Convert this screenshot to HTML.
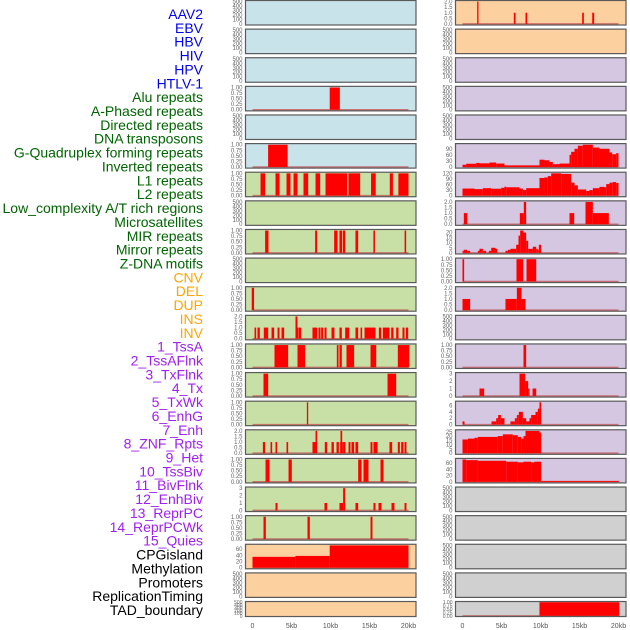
<!DOCTYPE html>
<html><head><meta charset="utf-8"><style>
html,body{margin:0;padding:0;background:#fff}
svg{display:block}
text{font-family:"Liberation Sans",sans-serif}
</style></head><body>
<svg id="chart" width="630" height="630" viewBox="0 0 630 630" xmlns="http://www.w3.org/2000/svg"></svg>
<script>
// ---- track labels ----
const trackLabels = ["AAV2","EBV","HBV","HIV","HPV","HTLV-1","Alu repeats","A-Phased repeats","Directed repeats","DNA transposons","G-Quadruplex forming repeats","Inverted repeats","L1 repeats","L2 repeats","Low_complexity A/T rich regions","Microsatellites","MIR repeats","Mirror repeats","Z-DNA motifs","CNV","DEL","DUP","INS","INV","1_TssA","2_TssAFlnk","3_TxFlnk","4_Tx","5_TxWk","6_EnhG","7_Enh","8_ZNF_Rpts","9_Het","10_TssBiv","11_BivFlnk","12_EnhBiv","13_ReprPC","14_ReprPCWk","15_Quies","CPGisland","Methylation","Promoters","ReplicationTiming","TAD_boundary"];
const labelGroupSizes = [6,13,5,15,5];
const labelGroupColors = ["#0000ee","#006400","#ffa500","#a020f0","#000000"];
const xTickValues = [0,5,10,15,20];
const xTickLabels = ["0","5kb","10kb","15kb","20kb"];

// ---- tick sets ----
const ticks500 = [0,100,200,300,400,500];
const ticks1 = [0,0.25,0.5,0.75,1];
const ticks2 = [0,0.5,1,1.5,2];
const ticks3 = [0,1,2,3];
const ticks60 = [0,20,40,60];
const ticks90 = [0,30,60,90];
const ticks120 = [0,30,60,90,120];
const ticks20 = [0,5,10,15,20];
const ticks25 = [0,5,10,15,20,25];
const ticks6 = [0,2,4,6];

// ---- series: [startKb, endKb, value] ----
const hivBars = [[9.9,11.2,1]];
const htlvBars = [[2.0,4.5,1]];
const aluBars = [[1.03,1.62,1],[2.95,3.46,1],[4.36,4.87,1],[5.26,5.77,1],[6.54,7.14,1],[8.08,8.68,1],[9.36,12.14,1],[12.3,13.8,1],[15.2,15.8,1],[17.6,18.0,1],[18.7,20.0,1]];
const directedBars = [[1.62,2.05,1],[8.03,8.29,1],[10.47,10.9,1],[11.15,11.5,1],[11.6,11.9,1],[13.2,13.55,1],[15.5,15.7,1],[19.5,19.7,1]];
const gquadBars = [[-0.1,0.2,1]];
const invertedBars = [[0.26,0.47,1],[0.64,0.94,1],[1.45,2.01,1],[2.44,2.78,1],[3.21,3.46,1],[3.72,4.06,1],[5.51,5.77,2],[5.77,5.86,1],[5.94,6.24,1],[7.69,8.29,1],[8.46,8.72,1],[8.8,9.06,1],[9.23,9.49,1],[10.13,10.51,1],[11.15,11.45,1],[11.88,12.39,1],[13.2,13.55,1],[13.85,14.06,1],[14.36,15.77,1],[16.2,16.5,1],[16.71,17.56,1],[17.78,18.08,1],[18.42,18.72,1],[19.23,19.49,1],[19.66,19.96,1]];
const l1Bars = [[2.82,4.57,1],[5.77,6.75,1],[10.81,11.03,1],[11.15,11.45,1],[12.05,13.03,1],[15.13,15.86,1],[18.63,20.1,1]];
const l2Bars = [[1.41,2.01,1],[17.31,18.42,1]];
const lowComplexBars = [[6.97,7.14,1]];
const microsatBars = [[1.33,1.62,1],[2.31,2.52,1],[2.95,3.16,1],[4.36,4.57,1],[7.69,8.08,1],[8.08,8.29,2],[9.27,9.57,1],[10.13,10.43,1],[10.77,11.07,1],[11.24,11.28,1],[11.28,11.5,2],[11.5,11.54,1],[11.62,11.92,1],[12.31,12.56,1],[12.69,13.03,1],[13.2,13.55,1],[15.13,15.38,1],[15.51,16.03,1],[17.56,17.91,1],[18.63,18.89,1],[19.06,19.36,1],[19.49,19.74,1]];
const mirBars = [[1.67,2.18,1],[4.62,5.04,1],[13.55,13.98,1],[14.23,14.87,1],[16.41,16.8,1]];
const mirrorBars = [[2.95,3.21,1],[9.23,9.57,1],[11.15,11.62,1],[11.62,11.88,3],[13.2,13.55,1],[15.51,15.77,1],[16.15,16.54,1],[17.82,18.2,1],[19.49,19.74,1]];
const zdnaBars = [[1.41,1.71,1],[7.05,7.35,1],[15.13,15.38,1]];
const cpgSteps = [[0,5.5,35],[5.5,9.9,38],[9.9,20,72]];
const insBars = [[1.88,2.05,2],[6.58,6.8,1],[8.08,8.29,1],[15.34,15.56,1],[16.63,16.88,1]];
const tssaSteps = [[0,0.47,11],[0.47,1.75,16],[1.75,2.18,20],[2.18,3.46,18],[3.46,4.32,22],[4.32,5.38,17],[5.38,9.87,8],[9.87,10.51,36],[10.51,11.15,33],[11.15,11.58,25],[11.58,12.44,14],[12.44,13.72,17],[13.72,13.93,60],[13.93,14.36,75],[14.36,14.79,90],[14.79,15.43,105],[15.43,16.71,110],[16.71,17.56,96],[17.56,18.85,90],[18.85,19.19,72],[19.19,19.7,63],[19.7,20,68]];
const tssaflnkSteps = [[0,1.54,38],[1.54,2.61,35],[2.61,3.68,40],[3.68,4.96,37],[4.96,5.38,42],[5.38,5.6,48],[5.6,7.31,45],[7.31,7.74,38],[7.74,8.16,30],[8.16,9.87,40],[9.87,10.51,95],[10.51,10.94,98],[10.94,11.37,105],[11.37,12.65,120],[12.65,13.93,117],[13.93,14.36,70],[14.36,14.79,55],[14.79,15.86,33],[15.86,16.28,25],[16.28,16.71,30],[16.71,17.56,40],[17.56,18.2,47],[18.2,18.42,45],[18.42,18.85,62],[18.85,19.27,70],[19.27,19.7,73],[19.7,20,68]];
const txflnkBars = [[0.17,0.6,1],[7.35,7.86,1],[7.86,8.16,2],[13.72,14.32,1],[15.77,16.71,2],[16.71,18.76,1]];
const txSteps = [[0,0.17,2],[0.17,0.6,3],[0.6,0.98,2],[1.97,2.18,2],[2.18,2.61,4],[2.61,3.03,2],[3.38,3.68,2],[3.68,4.23,5],[4.23,4.45,4],[5.51,5.81,2],[5.81,6.15,3],[6.15,6.88,4],[6.88,7.18,8],[7.18,7.39,17],[7.39,7.82,22],[7.82,8.16,20],[8.16,8.42,12],[8.42,9.02,4],[9.02,9.45,6],[9.45,9.66,4],[9.66,9.79,3],[9.79,10.09,8]];
const txwkBars = [[0,0.21,1],[6.92,7.78,1],[8.21,9.45,1]];
const enhgBars = [[0,0.98,1],[5.51,6.97,1],[6.97,7.56,2],[7.56,8.08,1]];
const znfBars = [[7.82,8.16,1]];
const hetBars = [[2.18,2.78,1],[7.31,8.03,3],[8.03,8.42,2],[8.42,8.59,1],[8.98,9.45,1]];
const tssbivSteps = [[0,0.26,1],[3.72,4.32,1],[4.32,4.57,2],[4.57,4.92,3],[4.92,5.38,2],[6.15,6.71,1],[6.71,6.97,2],[6.97,7.22,3],[7.22,7.74,4],[7.74,8.16,2],[8.16,8.59,1],[8.59,8.8,2],[8.8,9.36,3],[9.36,9.66,4],[9.66,9.87,5],[9.87,10.09,7]];
const bivflnkSteps = [[0,0.69,16],[0.69,1.54,17],[1.54,1.97,18],[1.97,4.53,19],[4.53,5.17,20],[5.17,6.45,22],[6.45,7.09,21],[7.09,7.52,19],[7.52,7.82,17],[7.82,8.08,20],[8.08,9.87,26],[9.87,10.09,24]];
const enhbivSteps = [[0,0.47,72],[0.47,1.97,70],[1.97,5.6,68],[5.6,7.09,65],[7.09,7.82,63],[7.82,8.8,65],[8.8,9.23,63],[9.23,10.09,65],[10.09,20.1,3]];
const tadBars = [[9.87,20.1,1]];

const BLUE="#c9e3eb", GREEN="#c8e0a5", PEACH="#fdd0a0", PURPLE="#d5c6e2", GRAY="#d0d0d0";
const panels = [
 {name:"aav2",col:0,row:0,bg:BLUE,ticks:ticks500,data:[]},
 {name:"ebv",col:0,row:1,bg:BLUE,ticks:ticks500,data:[]},
 {name:"hbv",col:0,row:2,bg:BLUE,ticks:ticks500,data:[]},
 {name:"hiv",col:0,row:3,bg:BLUE,ticks:ticks1,data:hivBars},
 {name:"hpv",col:0,row:4,bg:BLUE,ticks:ticks500,data:[]},
 {name:"htlv1",col:0,row:5,bg:BLUE,ticks:ticks1,data:htlvBars},
 {name:"alu",col:0,row:6,bg:GREEN,ticks:ticks1,data:aluBars},
 {name:"a-phased",col:0,row:7,bg:GREEN,ticks:ticks500,data:[]},
 {name:"directed",col:0,row:8,bg:GREEN,ticks:ticks1,data:directedBars},
 {name:"dna-transposons",col:0,row:9,bg:GREEN,ticks:ticks500,data:[]},
 {name:"g-quadruplex",col:0,row:10,bg:GREEN,ticks:ticks1,data:gquadBars},
 {name:"inverted",col:0,row:11,bg:GREEN,ticks:ticks2,data:invertedBars},
 {name:"l1",col:0,row:12,bg:GREEN,ticks:ticks1,data:l1Bars},
 {name:"l2",col:0,row:13,bg:GREEN,ticks:ticks1,data:l2Bars},
 {name:"low-complexity",col:0,row:14,bg:GREEN,ticks:ticks1,data:lowComplexBars},
 {name:"microsatellites",col:0,row:15,bg:GREEN,ticks:ticks2,data:microsatBars},
 {name:"mir",col:0,row:16,bg:GREEN,ticks:ticks1,data:mirBars},
 {name:"mirror",col:0,row:17,bg:GREEN,ticks:ticks3,data:mirrorBars},
 {name:"z-dna",col:0,row:18,bg:GREEN,ticks:ticks1,data:zdnaBars},
 {name:"cnv",col:0,row:19,bg:PEACH,ticks:ticks60,data:cpgSteps,ymax:72},
 {name:"del",col:0,row:20,bg:PEACH,ticks:ticks500,data:[]},
 {name:"dup",col:0,row:21,bg:PEACH,ticks:ticks500,data:[]},
 {name:"ins",col:1,row:0,bg:PEACH,ticks:ticks2,data:insBars},
 {name:"inv",col:1,row:1,bg:PEACH,ticks:ticks500,data:[]},
 {name:"state-1",col:1,row:2,bg:PURPLE,ticks:ticks500,data:[]},
 {name:"state-2",col:1,row:3,bg:PURPLE,ticks:ticks500,data:[]},
 {name:"state-3",col:1,row:4,bg:PURPLE,ticks:ticks500,data:[]},
 {name:"state-4",col:1,row:5,bg:PURPLE,ticks:ticks90,data:tssaSteps,ymax:110},
 {name:"state-5",col:1,row:6,bg:PURPLE,ticks:ticks120,data:tssaflnkSteps,ymax:120},
 {name:"state-6",col:1,row:7,bg:PURPLE,ticks:ticks2,data:txflnkBars},
 {name:"state-7",col:1,row:8,bg:PURPLE,ticks:ticks20,data:txSteps,ymax:22},
 {name:"state-8",col:1,row:9,bg:PURPLE,ticks:ticks1,data:txwkBars},
 {name:"state-9",col:1,row:10,bg:PURPLE,ticks:ticks2,data:enhgBars},
 {name:"state-10",col:1,row:11,bg:PURPLE,ticks:ticks500,data:[]},
 {name:"state-11",col:1,row:12,bg:PURPLE,ticks:ticks1,data:znfBars},
 {name:"state-12",col:1,row:13,bg:PURPLE,ticks:ticks3,data:hetBars},
 {name:"state-13",col:1,row:14,bg:PURPLE,ticks:ticks6,data:tssbivSteps,ymax:7},
 {name:"state-14",col:1,row:15,bg:PURPLE,ticks:ticks25,data:bivflnkSteps,ymax:26},
 {name:"state-15",col:1,row:16,bg:PURPLE,ticks:ticks60,data:enhbivSteps,ymax:72},
 {name:"cpgisland",col:1,row:17,bg:GRAY,ticks:ticks500,data:[]},
 {name:"methylation",col:1,row:18,bg:GRAY,ticks:ticks500,data:[]},
 {name:"promoters",col:1,row:19,bg:GRAY,ticks:ticks500,data:[]},
 {name:"replication-timing",col:1,row:20,bg:GRAY,ticks:ticks500,data:[]},
 {name:"tad-boundary",col:1,row:21,bg:GRAY,ticks:ticks1,data:tadBars}
];

const NS="http://www.w3.org/2000/svg";
const svg=document.getElementById('chart');
function mk(tag,attrs,parent){const e=document.createElementNS(NS,tag);for(const k in attrs)e.setAttribute(k,attrs[k]);(parent||svg).appendChild(e);return e;}
const colLeft=[245.5,455.5], colRight=[416,626], zeroX=[252.5,462.5], kbPx=7.8;
function xScale(col,kb){return zeroX[col]+kb*kbPx;}
function rowTop(r){return r*28.62+0.5;}
function rowH(r){return r===21?15:24.5;}
function fmt(ticks,v){if(ticks===ticks1)return v.toFixed(2);if(ticks===ticks2)return v.toFixed(1);return String(v);}

// labels
let li=0;
labelGroupSizes.forEach((n,g)=>{for(let k=0;k<n;k++){
  const t=mk('text',{x:203,y:14+li*13.86+5,'text-anchor':'end','font-size':'14',fill:labelGroupColors[g]});
  t.textContent=trackLabels[li];
  
  
  li++;}});

panels.forEach(p=>{
  const g=mk('g',{});
  
  
  const top=rowTop(p.row),h=rowH(p.row),L=colLeft[p.col],R=colRight[p.col];
  const bg=mk('rect',{x:L,y:top,width:R-L,height:h,fill:p.bg},g);
  
  
  const tmax=p.ticks[p.ticks.length-1];
  const ymax=p.ymax||tmax;
  const lo=-0.05*ymax, hi=1.05*ymax;
  const yS=v=>top+h-(v-lo)/(hi-lo)*h;
  p.ticks.forEach(tv=>{
    const t=mk('text',{x:L-3,y:yS(tv)+2,'text-anchor':'end','font-size':p.row===21?'5':'6',fill:'#666'},g);
    t.textContent=fmt(p.ticks,tv);
    
    
  });
  if(p.data.length){
    const bl=mk('line',{x1:xScale(p.col,0),x2:xScale(p.col,20),y1:yS(0),y2:yS(0),stroke:'#c05050','stroke-width':1.5,'stroke-opacity':0.75},g);
    
    
  }
  p.data.forEach(d=>{
    const x1=xScale(p.col,d[0]),x2=xScale(p.col,d[1]);
    const y1=yS(d[2]),y0=yS(0);
    const r=mk('rect',{x:x1,y:y1,width:Math.max(x2-x1,1),height:y0-y1,fill:'#ff0000'},g);
    
    
  });
  const bd=mk('rect',{x:L,y:top,width:R-L,height:h,fill:'none',stroke:'#5a5a5a','stroke-width':1.2},g);
  
  
});

[0,1].forEach(c=>{
  xTickValues.forEach((v,i)=>{
    const t=mk('text',{x:xScale(c,v),y:628,'text-anchor':'middle','font-size':'7',fill:'#555'});
    t.textContent=xTickLabels[i];
    
    
  });
});
</script>
</body></html>
